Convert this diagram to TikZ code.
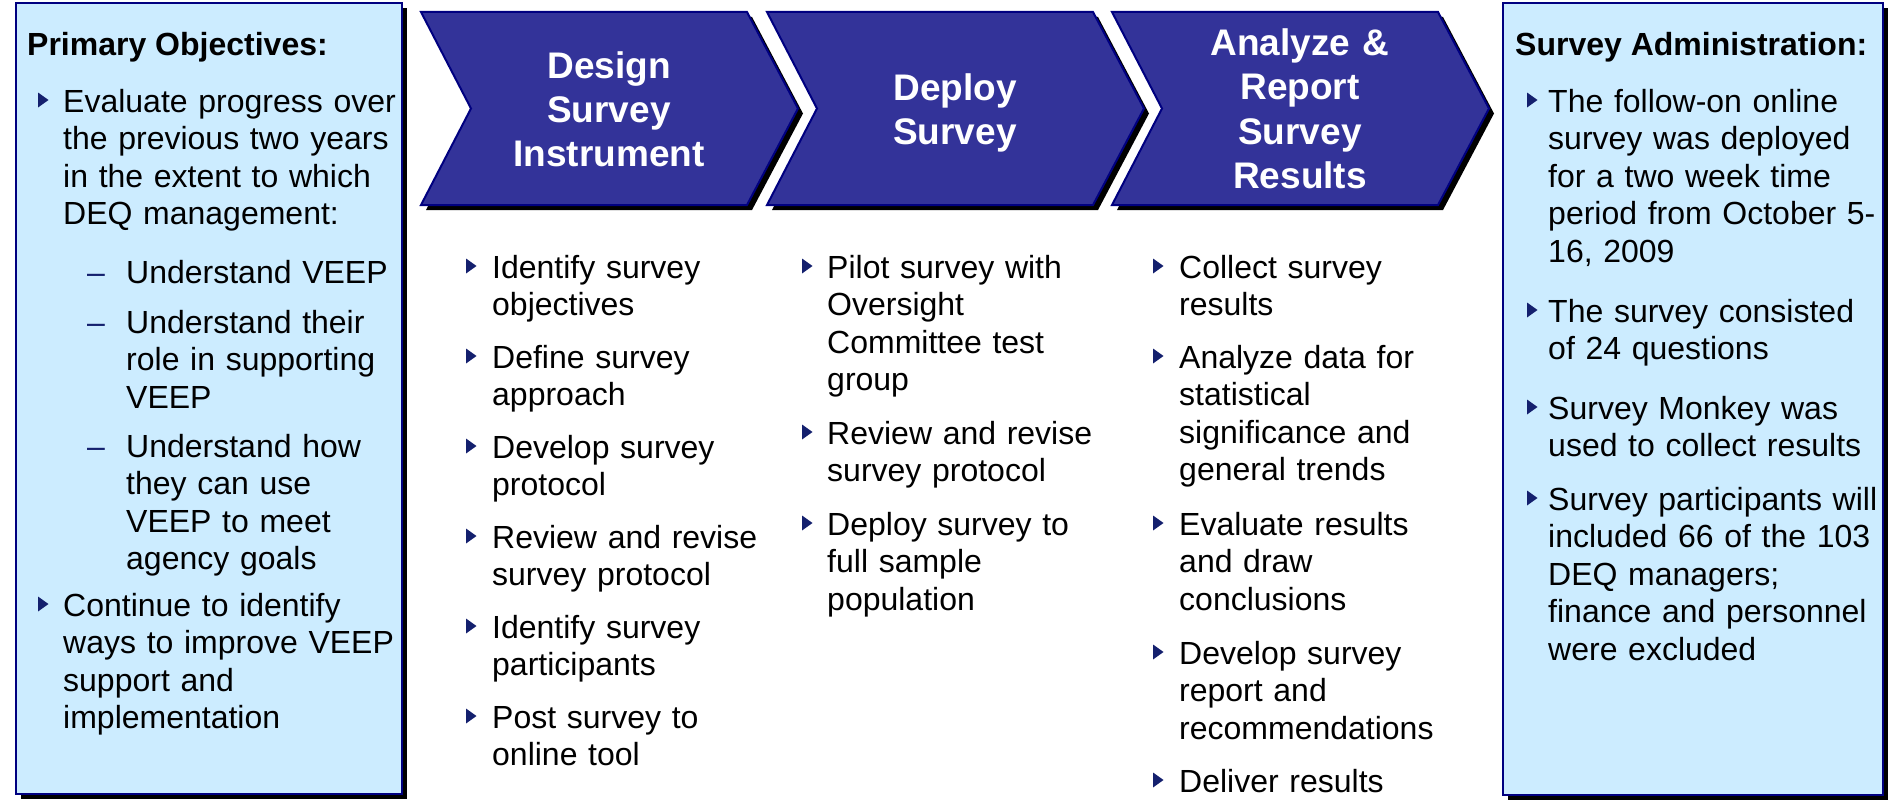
\documentclass[tikz,border=0pt]{standalone}
\usepackage{fontspec}
\setmainfont{Liberation Sans}
\definecolor{panelfill}{HTML}{CCECFF}
\definecolor{navyline}{HTML}{000080}
\definecolor{chevfill}{HTML}{333399}
\definecolor{bulletnavy}{HTML}{14206E}

\tikzset{
  panel/.style={fill=panelfill, draw=navyline, line width=2pt},
  dropshade/.style={fill=black},
  chevron/.style={fill=chevfill, draw=navyline, line width=2pt, line join=miter},
  headline/.style={text=white, font=\fontsize{37}{44.5}\selectfont\bfseries,
    align=center, text width=320pt, inner sep=0pt, anchor=base},
  bodytext/.style={font=\fontsize{32}{37.5}\selectfont, align=left,
    text width=400pt, inner sep=0pt, anchor=base west},
  titletext/.style={font=\fontsize{32}{37.5}\selectfont\bfseries,
    inner sep=0pt, anchor=base west},
  dashmark/.style={font=\fontsize{32}{37.5}\selectfont, text=bulletnavy,
    inner sep=0pt, anchor=base west},
  tri/.style={fill=bulletnavy},
}

% triangular bullet beside the text baseline at (x, y)
\newcommand\tribullet[2]{\fill[tri, shift={(#1,#2)}] (0,-19.5) -- (0,-4.5) -- (10.5,-12) -- cycle;}
% chevron with its top-left corner at x
\newcommand\chevronpath[1]{[shift={(#1,0)}] (0,12) -- (326,12) -- (377,108.5) -- (326,205) -- (0,205) -- (50,108.5) -- cycle}

\begin{document}
\begin{tikzpicture}[x=1pt, y=-1pt]
  \useasboundingbox (0,0) rectangle (1888,800);

  % ---- left panel: primary objectives ----
  \fill[dropshade] (21,8) rectangle (407,799);
  \draw[panel] (16,3) rectangle (402,794);
  \node[titletext] (objtitle) at (27,56) {Primary Objectives:};

  \tribullet{38}{112}
  \node[bodytext] (obj1) at (63,112) {Evaluate progress over\\the previous two years\\in the extent to which\\DEQ management:};
  \node[dashmark] (d1) at (87,283) {–};
  \node[bodytext] (obj1a) at (126,283) {Understand VEEP};
  \node[dashmark] (d2) at (87,333) {–};
  \node[bodytext] (obj1b) at (126,333) {Understand their\\role in supporting\\VEEP};
  \node[dashmark] (d3) at (87,457) {–};
  \node[bodytext] (obj1c) at (126,457) {Understand how\\they can use\\VEEP to meet\\agency goals};
  \tribullet{38}{616}
  \node[bodytext] (obj2) at (63,616) {Continue to identify\\ways to improve VEEP\\support and\\implementation};

  % ---- process chevrons ----
  \fill[dropshade, shift={(5,5)}] \chevronpath{421};
  \draw[chevron] \chevronpath{421};
  \fill[dropshade, shift={(5,5)}] \chevronpath{767};
  \draw[chevron] \chevronpath{767};
  \fill[dropshade, shift={(5,5)}] \chevronpath{1112};
  \draw[chevron] \chevronpath{1112};

  \node[headline] (design) at (609,78) {Design\\Survey\\Instrument};
  \node[headline] (deploy) at (955,100) {Deploy\\Survey};
  \node[headline] (analyze) at (1300,55.5) {Analyze \&\\Report\\Survey\\Results};

  % ---- design steps ----
  \tribullet{466}{278}
  \node[bodytext] (ds1) at (492,278) {Identify survey\\objectives};
  \tribullet{466}{368}
  \node[bodytext] (ds2) at (492,368) {Define survey\\approach};
  \tribullet{466}{458}
  \node[bodytext] (ds3) at (492,458) {Develop survey\\protocol};
  \tribullet{466}{548}
  \node[bodytext] (ds4) at (492,548) {Review and revise\\survey protocol};
  \tribullet{466}{638}
  \node[bodytext] (ds5) at (492,638) {Identify survey\\participants};
  \tribullet{466}{728}
  \node[bodytext] (ds6) at (492,728) {Post survey to\\online tool};

  % ---- deploy steps ----
  \tribullet{802}{278}
  \node[bodytext] (dp1) at (827,278) {Pilot survey with\\Oversight\\Committee test\\group};
  \tribullet{802}{444}
  \node[bodytext] (dp2) at (827,444) {Review and revise\\survey protocol};
  \tribullet{802}{535}
  \node[bodytext] (dp3) at (827,535) {Deploy survey to\\full sample\\population};

  % ---- analysis steps ----
  \tribullet{1153}{278}
  \node[bodytext] (an1) at (1179,278) {Collect survey\\results};
  \tribullet{1153}{368}
  \node[bodytext] (an2) at (1179,368) {Analyze data for\\statistical\\significance and\\general trends};
  \tribullet{1153}{535}
  \node[bodytext] (an3) at (1179,535) {Evaluate results\\and draw\\conclusions};
  \tribullet{1153}{664}
  \node[bodytext] (an4) at (1179,664) {Develop survey\\report and\\recommendations};
  \tribullet{1153}{792}
  \node[bodytext] (an5) at (1179,792) {Deliver results};

  % ---- right panel: survey administration ----
  \fill[dropshade] (1508,8) rectangle (1888,800);
  \draw[panel] (1503,3) rectangle (1883,795);
  \node[titletext] (admtitle) at (1515,56) {Survey Administration:};

  \tribullet{1527}{112}
  \node[bodytext] (adm1) at (1548,112) {The follow-on online\\survey was deployed\\for a two week time\\period from October 5-\\16, 2009};
  \tribullet{1527}{322}
  \node[bodytext] (adm2) at (1548,322) {The survey consisted\\of 24 questions};
  \tribullet{1527}{419}
  \node[bodytext] (adm3) at (1548,419) {Survey Monkey was\\used to collect results};
  \tribullet{1527}{510}
  \node[bodytext] (adm4) at (1548,510) {Survey participants will\\included 66 of the 103\\DEQ managers;\\finance and personnel\\were excluded};
\end{tikzpicture}
\end{document}
